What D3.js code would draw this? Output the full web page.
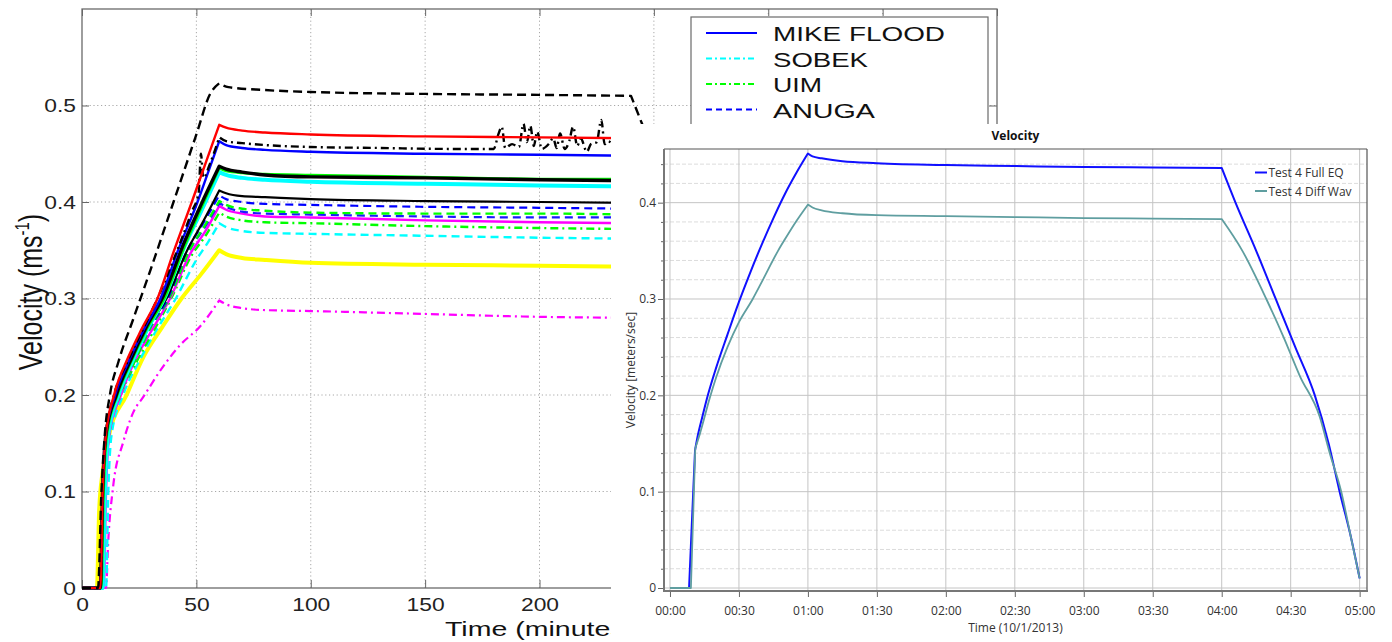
<!DOCTYPE html>
<html><head><meta charset="utf-8">
<script src="https://cdn.jsdelivr.net/npm/d3@7"></script>
<style>body{margin:0;background:#fff}svg{display:block}</style>
</head><body><svg id="c" width="1392" height="642"></svg>
<script>
// ================= LEFT CHART DATA (minutes, m/s) =================
const leftXTicks = [0, 50, 100, 150, 200, 250, 300, 350, 400];
const leftXLabels = [0, 50, 100, 150, 200];
const leftYTicks = [0, 0.1, 0.2, 0.3, 0.4, 0.5];
const leftLegendLabels = ["MIKE FLOOD", "SOBEK", "UIM", "ANUGA"];

const magentaDashDot = [[0,0],[10.5,0],[11.5,0.05],[13.6,0.105],[18,0.151],[22.4,0.182],[26.8,0.198],[35.6,0.23],[43,0.252],[51.6,0.271],[60,0.298],[63,0.294],[70,0.29],[80,0.288],[100,0.287],[150,0.284],[200,0.281],[240,0.28]];
const yellowSolid = [[0,0],[6.5,0],[7.5,0.08],[9,0.12],[12,0.16],[19.5,0.2],[27,0.24],[35,0.27],[43.5,0.3],[52,0.325],[60,0.35],[63,0.346],[70,0.342],[80,0.34],[100,0.337],[150,0.335],[200,0.334],[240,0.333]];
const cyanDashed = [[0,0],[10.5,0],[11.5,0.1],[13,0.16],[18,0.2],[25,0.235],[32,0.265],[41,0.3],[50,0.34],[55,0.358],[60,0.378],[63,0.374],[70,0.37],[80,0.368],[100,0.367],[150,0.365],[200,0.363],[240,0.362]];
const greenDashDot = [[0,0],[9,0],[10,0.1],[12,0.16],[17,0.2],[24,0.235],[31,0.265],[39,0.3],[48,0.345],[54,0.365],[60,0.389],[63,0.385],[70,0.381],[80,0.379],[100,0.378],[150,0.375],[200,0.373],[240,0.372]];
const magentaSolid = [[0,0],[9.5,0],[10.5,0.1],[12,0.16],[17,0.2],[23,0.235],[30,0.265],[38.5,0.3],[47,0.345],[54,0.37],[60,0.396],[63,0.392],[70,0.388],[80,0.385],[100,0.384],[150,0.381],[200,0.379],[240,0.378]];
const blueDashed2 = [[0,0],[9,0],[10,0.1],[11.5,0.16],[16.5,0.2],[23,0.235],[30,0.27],[38,0.3],[47,0.35],[54,0.375],[60,0.399],[63,0.395],[70,0.39],[80,0.388],[100,0.387],[150,0.385],[200,0.384],[240,0.384]];
const greenDashed = [[0,0],[9,0],[10,0.1],[11.5,0.16],[16.5,0.2],[23,0.235],[30,0.27],[38,0.3],[47,0.35],[53.5,0.375],[60,0.401],[63,0.397],[70,0.393],[80,0.391],[100,0.389],[150,0.388],[200,0.388],[240,0.387]];
const blueDashed = [[0,0],[9,0],[10,0.1],[11.5,0.16],[16,0.2],[22,0.235],[29.5,0.27],[37.5,0.3],[46,0.35],[53,0.378],[60,0.407],[63,0.403],[70,0.4],[80,0.398],[100,0.397],[150,0.395],[200,0.394],[240,0.393]];
const blackThin = [[0,0],[8,0],[9,0.1],[10.5,0.16],[15.5,0.2],[22,0.235],[29,0.27],[37,0.3],[46,0.35],[53,0.38],[60,0.412],[63,0.409],[70,0.406],[80,0.405],[100,0.403],[150,0.401],[200,0.4],[240,0.399]];
const cyanThick = [[0,0],[9,0],[10,0.1],[11.5,0.16],[16,0.2],[22,0.235],[29,0.27],[36,0.3],[45,0.355],[52,0.39],[60,0.431],[63,0.428],[70,0.425],[80,0.423],[100,0.421],[150,0.419],[200,0.417],[240,0.416]];
const greenSolid = [[0,0],[8.5,0],[9.5,0.1],[11,0.16],[15.5,0.2],[21,0.232],[28,0.267],[36,0.3],[45,0.355],[52,0.393],[60,0.435],[63,0.432],[70,0.43],[80,0.429],[100,0.428],[150,0.426],[200,0.424],[240,0.424]];
const blackThick = [[0,0],[8,0],[9,0.1],[10.5,0.16],[15,0.2],[21,0.235],[28,0.27],[35,0.3],[45,0.36],[52,0.397],[60,0.437],[63,0.434],[70,0.431],[80,0.428],[100,0.426],[150,0.425],[200,0.423],[240,0.422]];
const blueSolid = [[0,0],[8,0],[9,0.1],[10.5,0.16],[14.5,0.2],[20,0.233],[27,0.268],[34.3,0.3],[42,0.35],[50.5,0.4],[55,0.43],[60,0.463],[63,0.459],[70,0.456],[80,0.454],[100,0.452],[150,0.45],[200,0.449],[240,0.448]];
const blackDashDot = [[0,0],[8,0],[9,0.1],[10.5,0.16],[14,0.2],[20,0.235],[27,0.27],[33,0.3],[40,0.34],[48,0.39],[51,0.41],[52,0.45],[53,0.425],[56,0.44],[60,0.467],[63,0.463],[70,0.461],[80,0.459],[100,0.457],[130,0.456],[160,0.455],[180,0.455],[182,0.47],[183.5,0.478],[185,0.456],[188,0.46],[191,0.457],[193,0.481],[194.5,0.462],[196,0.479],[197.5,0.458],[199,0.473],[201,0.455],[204,0.46],[206,0.466],[207.5,0.456],[209,0.471],[211,0.455],[213,0.463],[214.7,0.478],[216.5,0.458],[218,0.466],[220.7,0.452],[222.5,0.46],[225,0.462],[227,0.485],[228.5,0.46],[230,0.463],[233,0.458],[240,0.457]];
const redSolid = [[0,0],[8,0],[9,0.1],[10.5,0.16],[14,0.2],[20,0.238],[26,0.268],[33,0.3],[40,0.348],[48,0.4],[54,0.44],[60,0.48],[63,0.477],[70,0.474],[80,0.472],[100,0.47],[150,0.468],[200,0.467],[240,0.466]];
const blackDashed = [[0,0],[7,0],[8.5,0.1],[10,0.16],[12.2,0.2],[16,0.235],[22.3,0.278],[30,0.33],[40,0.4],[50,0.47],[56,0.512],[60,0.523],[64,0.519],[80,0.516],[100,0.514],[150,0.512],[200,0.511],[240,0.51],[245,0.48],[255,0.42]];

// ================= RIGHT CHART DATA (minutes, m/s) =================
const rightXTicks = [0, 30, 60, 90, 120, 150, 180, 210, 240, 270, 300];
const rightYTicks = [0, 0.1, 0.2, 0.3, 0.4];
const rightYMinor = [0.02,0.04,0.06,0.08,0.12,0.14,0.16,0.18,0.22,0.24,0.26,0.28,0.32,0.34,0.36,0.38,0.42,0.44];
const rightLegendLabels = ["Test 4 Full EQ", "Test 4 Diff Wav"];
const fullEqTime = [0, 8.3, 10.9, 12, 14, 16, 20, 25, 30, 35, 40, 45, 50, 55, 60, 62, 66, 75, 90, 120, 150, 180, 210, 240, 246, 255, 263.5, 272, 280.5, 286.5, 291.3, 296, 300];
const fullEqVel  = [0, 0, 0.143, 0.157, 0.177, 0.196, 0.228, 0.263, 0.297, 0.328, 0.357, 0.384, 0.409, 0.431, 0.451, 0.448, 0.446, 0.443, 0.441, 0.439, 0.438, 0.437, 0.4365, 0.436, 0.40, 0.35, 0.30, 0.25, 0.20, 0.15, 0.10, 0.055, 0.01];
const diffWavTime = [0, 9.1, 11, 13, 17.4, 20, 25, 30, 36, 40, 47, 50, 55, 60, 62, 66, 75, 90, 120, 150, 180, 210, 240, 249, 259.4, 267, 274, 282.6, 287, 292, 296, 300];
const diffWavVel  = [0, 0, 0.145, 0.16, 0.198, 0.218, 0.25, 0.276, 0.3, 0.318, 0.35, 0.362, 0.381, 0.398, 0.395, 0.392, 0.389, 0.387, 0.386, 0.385, 0.384, 0.3835, 0.383, 0.35, 0.30, 0.26, 0.22, 0.178, 0.14, 0.10, 0.055, 0.01];

// ================= DRAW =================
const svg = d3.select('#c');
svg.append('rect').attr('width',1392).attr('height',642).attr('fill','#fff');
const FL = '"Liberation Sans", Arial, sans-serif';
const FR = '"Open Sans", "Noto Sans", sans-serif';
function stretch(sel, k){ sel.each(function(){ const L=this.getComputedTextLength(); d3.select(this).attr('textLength', L*k).attr('lengthAdjust','spacingAndGlyphs'); }); }

// path with smooth (monotone) pieces, split at given break indices, kept as one subpath
function smoothPath(line, pts, breaks){
  const idx = [0, ...breaks, pts.length-1];
  let s = '';
  for (let i=0;i<idx.length-1;i++){
    const seg = pts.slice(idx[i], idx[i+1]+1);
    let p = line(seg);
    if (i>0) p = p.replace(/^M[^CLZ]*/, '');
    s += p;
  }
  return s;
}
function peakIndex(pts){ let m=0; pts.forEach((p,i)=>{ if(p[1]>pts[m][1]) m=i; }); return m; }

// ---- left chart ----
const xL = d3.scaleLinear().domain([0,400]).range([82,997]);
const yL = d3.scaleLinear().domain([0,0.6]).range([588,9]);
const gL = svg.append('g');
gL.selectAll('.gx').data(leftXTicks.filter(d=>d>0&&d<400)).join('line')
  .attr('x1',d=>xL(d)).attr('x2',d=>xL(d)).attr('y1',yL(0)).attr('y2',yL(0.6))
  .attr('stroke','#a8a8a8').attr('stroke-width',1).attr('stroke-dasharray','1.2,2.6');
gL.selectAll('.gy').data(leftYTicks.filter(d=>d>0)).join('line')
  .attr('x1',xL(0)).attr('x2',xL(400)).attr('y1',d=>yL(d)).attr('y2',d=>yL(d))
  .attr('stroke','#a8a8a8').attr('stroke-width',1).attr('stroke-dasharray','1.2,2.6');

const axTicks = gL.append('g').attr('transform',`translate(0,${yL(0)})`)
  .call(d3.axisBottom(xL).tickValues(leftXTicks).tickSize(-8).tickFormat(''));
axTicks.select('.domain').remove(); axTicks.selectAll('line').attr('stroke','#666');
const ax = gL.append('g').attr('transform',`translate(0,${yL(0)})`)
  .call(d3.axisBottom(xL).tickValues(leftXLabels).tickSize(0).tickPadding(10).tickFormat(d3.format('d')));
ax.select('.domain').remove();
ax.selectAll('line').remove();
ax.selectAll('text').attr('font-family',FL).attr('font-size',19).attr('fill','#222');
const axT = gL.append('g').attr('transform',`translate(0,${yL(0.6)})`)
  .call(d3.axisTop(xL).tickValues(leftXTicks).tickSize(-7).tickFormat(''));
axT.select('.domain').remove(); axT.selectAll('line').attr('stroke','#666');
const ay = gL.append('g').attr('transform',`translate(${xL(0)},0)`)
  .call(d3.axisLeft(yL).tickValues(leftYTicks).tickSize(-7).tickPadding(6).tickFormat(d=>d===0?'0':d3.format('.1f')(d)));
ay.select('.domain').remove();
ay.selectAll('line').attr('stroke','#666');
ay.selectAll('text').attr('font-family',FL).attr('font-size',19).attr('fill','#222');
const ayR = gL.append('g').attr('transform',`translate(${xL(400)},0)`)
  .call(d3.axisRight(yL).tickValues(leftYTicks).tickSize(-8).tickFormat(''));
ayR.select('.domain').remove(); ayR.selectAll('line').attr('stroke','#666');
gL.append('rect').attr('x',xL(0)).attr('y',yL(0.6)).attr('width',xL(400)-xL(0)).attr('height',yL(0)-yL(0.6))
  .attr('fill','none').attr('stroke','#6a6a6a').attr('stroke-width',1.3);
stretch(ax.selectAll('text'),1.2);
stretch(ay.selectAll('text'),1.2);

const lineL = d3.line().x(d=>xL(d[0])).y(d=>yL(d[1])).curve(d3.curveMonotoneX);
const leftSeries = [
  {d:magentaDashDot, c:'#ff00ff', w:2.2, dash:'8,4,2,4'},
  {d:yellowSolid, c:'#ffff00', w:4, dash:null},
  {d:cyanDashed, c:'#00ffff', w:2.4, dash:'8,5'},
  {d:greenDashDot, c:'#00ff00', w:2.4, dash:'8,4,2,4'},
  {d:magentaSolid, c:'#ff00ff', w:2.4, dash:null},
  {d:blueDashed2, c:'#1a1aff', w:2.2, dash:'8,5'},
  {d:greenDashed, c:'#00ff00', w:2.4, dash:'8,5'},
  {d:blueDashed, c:'#0000ff', w:2.2, dash:'8,5'},
  {d:blackThin, c:'#000', w:2.2, dash:null},
  {d:cyanThick, c:'#00ffff', w:4, dash:null},
  {d:greenSolid, c:'#00ff00', w:2.4, dash:null},
  {d:blackThick, c:'#000', w:3.4, dash:null},
  {d:blueSolid, c:'#0000ff', w:2.4, dash:null},
  {d:blackDashDot, c:'#000', w:2.4, dash:'8,4,2,4'},
  {d:redSolid, c:'#ff0000', w:2.4, dash:null},
  {d:blackDashed, c:'#000', w:2.4, dash:'9,5'}
];
gL.append('g').selectAll('path').data(leftSeries).join('path')
  .attr('d',s=>{ const pk = peakIndex(s.d.filter(p=>p[0]<=62)); const br=[pk];
                 if (s.d===blackDashed) br.push(s.d.length-3);
                 return smoothPath(lineL, s.d, br); })
  .attr('fill','none').attr('stroke',s=>s.c).attr('stroke-width',s=>s.w)
  .attr('stroke-dasharray',s=>s.dash).attr('stroke-linejoin','round');

// left legend
const lg = gL.append('g');
lg.append('rect').attr('x',691).attr('y',17).attr('width',297).attr('height',140).attr('fill','#fff').attr('stroke','#6a6a6a').attr('stroke-width',1.2);
const legStyles = [{c:'#0000ff',dash:null},{c:'#00ffff',dash:'6,3,2,3'},{c:'#00ff00',dash:'6,3,2,3'},{c:'#0000ff',dash:'6,4'}];
const legLens = [172, 95, 49, 102];
leftLegendLabels.forEach((t,i)=>{
  const yy = 33 + i*25.5;
  lg.append('line').attr('x1',706).attr('x2',757).attr('y1',yy).attr('y2',yy)
    .attr('stroke',legStyles[i].c).attr('stroke-width',2.2).attr('stroke-dasharray',legStyles[i].dash);
  lg.append('text').attr('x',773).attr('y',yy+8).text(t).attr('font-family',FL).attr('font-size',21)
    .attr('fill','#111').attr('textLength',legLens[i]).attr('lengthAdjust','spacingAndGlyphs');
});

// left axis titles
gL.append('text').attr('x',445).attr('y',636).text('Time (minutes)').attr('font-family',FL).attr('font-size',20)
  .attr('fill','#111').attr('textLength',189).attr('lengthAdjust','spacingAndGlyphs');
const yt = gL.append('text').attr('transform','translate(42,292) scale(1.3,1) rotate(-90)')
  .attr('text-anchor','middle').attr('font-family',FL).attr('font-size',25).attr('fill','#111');
yt.append('tspan').text('Velocity (ms');
yt.append('tspan').text('-1').attr('font-size',15).attr('dy',-10);
yt.append('tspan').text(')').attr('dy',10);

// ---- overlay panel (right chart) ----
svg.append('rect').attr('x',611).attr('y',124).attr('width',781).attr('height',518).attr('fill','#fff');
const xR = d3.scaleLinear().domain([-2.6,303.2]).range([664,1367]);
const yR = d3.scaleLinear().domain([-0.0031,0.4557]).range([591,149]);
const gR = svg.append('g');
gR.selectAll('.mn').data(rightYMinor).join('line')
  .attr('x1',xR.range()[0]).attr('x2',xR.range()[1]).attr('y1',d=>yR(d)).attr('y2',d=>yR(d))
  .attr('stroke','#dcdcdc').attr('stroke-width',1).attr('stroke-dasharray','4,2');
gR.selectAll('.mj').data(rightYTicks).join('line')
  .attr('x1',xR.range()[0]).attr('x2',xR.range()[1]).attr('y1',d=>yR(d)).attr('y2',d=>yR(d))
  .attr('stroke','#c4c4c4').attr('stroke-width',1);
gR.selectAll('.vx').data(rightXTicks).join('line')
  .attr('x1',d=>xR(d)).attr('x2',d=>xR(d)).attr('y1',yR.range()[0]).attr('y2',yR.range()[1])
  .attr('stroke','#c4c4c4').attr('stroke-width',1);

const fmt = m => String(Math.floor(m/60)).padStart(2,'0')+':'+String(m%60).padStart(2,'0');
const axR = gR.append('g').attr('transform',`translate(0,591)`)
  .call(d3.axisBottom(xR).tickValues(rightXTicks).tickSize(6).tickPadding(9).tickFormat(fmt));
axR.select('.domain').remove();
axR.selectAll('line').attr('stroke','#666');
axR.selectAll('text').attr('font-family',FR).attr('font-size',12).attr('fill','#333');
const ayRm = gR.append('g').attr('transform',`translate(664,0)`)
  .call(d3.axisLeft(yR).tickValues(rightYMinor).tickSize(3).tickFormat(''));
ayRm.select('.domain').remove(); ayRm.selectAll('line').attr('stroke','#666');
const ayRM = gR.append('g').attr('transform',`translate(664,0)`)
  .call(d3.axisLeft(yR).tickValues(rightYTicks).tickSize(6).tickPadding(2).tickFormat(d=>d===0?'0':d3.format('.1f')(d)));
ayRM.select('.domain').remove();
ayRM.selectAll('line').attr('stroke','#666');
ayRM.selectAll('text').attr('font-family',FR).attr('font-size',12).attr('fill','#333');

// frame
gR.append('line').attr('x1',664).attr('x2',1367).attr('y1',149).attr('y2',149).attr('stroke','#555').attr('stroke-width',1.2);
gR.append('line').attr('x1',1367).attr('x2',1367).attr('y1',149).attr('y2',592).attr('stroke','#555').attr('stroke-width',1.2);
gR.append('line').attr('x1',664).attr('x2',664).attr('y1',149).attr('y2',592).attr('stroke','#777').attr('stroke-width',2);
gR.append('line').attr('x1',663).attr('x2',1368).attr('y1',591).attr('y2',591).attr('stroke','#777').attr('stroke-width',2);

const lineR = d3.line().x(d=>xR(d[0])).y(d=>yR(d[1])).curve(d3.curveMonotoneX);
const fullEq = fullEqTime.map((t,i)=>[t,fullEqVel[i]]);
const diffWav = diffWavTime.map((t,i)=>[t,diffWavVel[i]]);
const brk = pts => { const j = pts.findIndex(p=>p[0]===60); const k = pts.findIndex(p=>p[0]===240); return [1, 2, j, k]; };
gR.append('path').attr('d',smoothPath(lineR, fullEq, brk(fullEq))).attr('fill','none').attr('stroke','#1010ff').attr('stroke-width',2).attr('stroke-linejoin','round');
gR.append('path').attr('d',smoothPath(lineR, diffWav, brk(diffWav))).attr('fill','none').attr('stroke','#5f9ea0').attr('stroke-width',1.8).attr('stroke-linejoin','round');

// titles
gR.append('text').attr('x',1015.5).attr('y',140).attr('text-anchor','middle').text('Velocity')
  .attr('font-family',FR).attr('font-size',12).attr('font-weight','bold').attr('fill','#111');
gR.append('text').attr('x',1015.5).attr('y',632).attr('text-anchor','middle').text('Time (10/1/2013)')
  .attr('font-family',FR).attr('font-size',12).attr('fill','#333');
gR.append('text').attr('transform','translate(635,370) rotate(-90)').attr('text-anchor','middle').text('Velocity [meters/sec]')
  .attr('font-family',FR).attr('font-size',12).attr('fill','#333');

// right legend
const rc = ['#1010ff','#5f9ea0'];
rightLegendLabels.forEach((t,i)=>{
  const yy = 172.5 + i*18.5;
  gR.append('line').attr('x1',1255).attr('x2',1267).attr('y1',yy).attr('y2',yy).attr('stroke',rc[i]).attr('stroke-width',2);
  gR.append('text').attr('x',1268.5).attr('y',yy+4.5).text(t).attr('font-family',FR).attr('font-size',12).attr('fill','#333');
});
</script></body></html>
